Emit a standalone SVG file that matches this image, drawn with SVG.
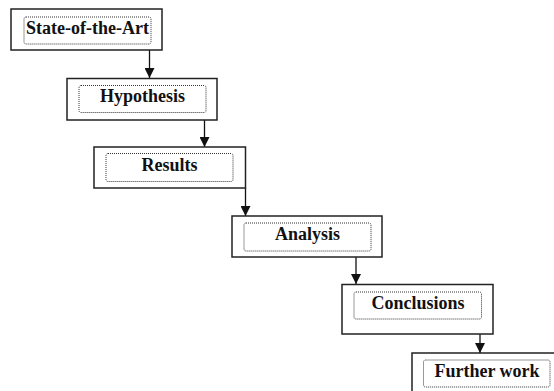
<svg xmlns="http://www.w3.org/2000/svg" width="554" height="391" viewBox="0 0 554 391">
<style>
.outer{fill:#fff;stroke:#222;stroke-width:1.5}
.inner{fill:none;stroke:#333;stroke-width:1;stroke-dasharray:1 1;}
.lbl{font-family:"Liberation Serif","Times New Roman",serif;font-weight:bold;font-size:18px;fill:#111;text-anchor:middle}
.conn{stroke:#111;stroke-width:1.3;fill:none;marker-end:url(#ah)}
</style>
<defs>
<marker id="ah" markerUnits="userSpaceOnUse" markerWidth="10" markerHeight="10" refX="9" refY="4.5" orient="auto" viewBox="0 0 9 9">
<path d="M0,0 L9,4.5 L0,9 z" fill="#111"/>
</marker>
</defs>
<rect width="554" height="391" fill="#fff"/>
<g id="connectors">
<line class="conn" x1="149.5" y1="50" x2="149.5" y2="78"/>
<line class="conn" x1="204.5" y1="120" x2="204.5" y2="147"/>
<line class="conn" x1="245.5" y1="188" x2="245.5" y2="216"/>
<line class="conn" x1="356" y1="257" x2="356" y2="284"/>
<line class="conn" x1="480" y1="334" x2="480" y2="353"/>
</g>
<g id="n1">
<rect class="outer" x="11" y="9" width="151" height="41"/>
<rect class="inner" x="24" y="17" width="127" height="27" rx="2"/>
<text class="lbl" x="87.5" y="34">State-of-the-Art</text>
</g>
<g id="n2">
<rect class="outer" x="67" y="78.5" width="150" height="41.5"/>
<rect class="inner" x="79" y="85.5" width="127" height="27" rx="2"/>
<text class="lbl" x="142.5" y="102">Hypothesis</text>
</g>
<g id="n3">
<rect class="outer" x="94" y="147" width="151.5" height="41"/>
<rect class="inner" x="106" y="153.5" width="127" height="28" rx="2"/>
<text class="lbl" x="169.5" y="170.5">Results</text>
</g>
<g id="n4">
<rect class="outer" x="232" y="216" width="150" height="41"/>
<rect class="inner" x="244" y="223" width="127" height="28" rx="2"/>
<text class="lbl" x="307.5" y="240">Analysis</text>
</g>
<g id="n5">
<rect class="outer" x="342" y="284.5" width="151" height="49.5"/>
<rect class="inner" x="354" y="292" width="127.5" height="27" rx="2"/>
<text class="lbl" x="418" y="309">Conclusions</text>
</g>
<g id="n6">
<rect class="outer" x="412" y="353" width="151" height="45"/>
<rect class="inner" x="423.5" y="360" width="126.5" height="27" rx="2"/>
<text class="lbl" x="487" y="377">Further work</text>
</g>
</svg>
